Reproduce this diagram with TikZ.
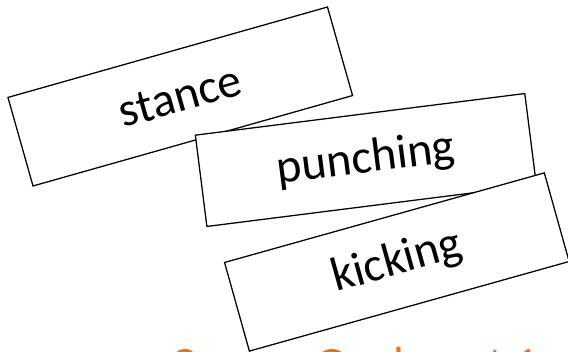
\documentclass[tikz,border=0pt]{standalone}
\usepackage{fontspec}
\setmainfont{Carlito}
\usetikzlibrary{positioning}
\definecolor{Ink}{HTML}{000000}
\definecolor{Title}{HTML}{FF6A10}
\tikzset{
  card/.style={draw=Ink,fill=white,line width=.9pt,minimum width=8.3cm,minimum height=2.3cm,inner sep=0pt,font=\fontsize{34}{40}\selectfont},
  heading/.style={text=Title,font=\fontsize{34}{40}\selectfont,inner sep=0pt,anchor=base west}
}
\begin{document}
\begin{tikzpicture}[x=.025cm,y=.025cm]
  \clip (0,0) rectangle (568,351);
  \useasboundingbox (0,0) rectangle (568,351);
  \node[card,rotate=15.8] (stance) at (180.25,254.5) {stance};
  \node[card,rotate=7.2] (punching) at (365.85,191) {punching};
  \node[card,rotate=15.65] (kicking) at (396.85,89) {kicking};
  \node[heading] (goals) at (170,-29) {Course Goals, set 1};
\end{tikzpicture}
\end{document}
